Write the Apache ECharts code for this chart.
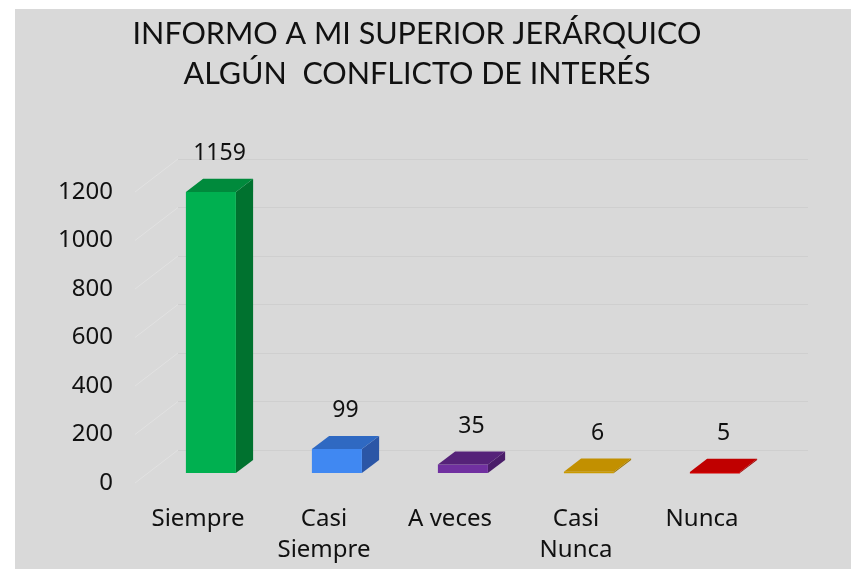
<!DOCTYPE html>
<html>
<head>
<meta charset="utf-8">
<script src="https://cdn.jsdelivr.net/npm/echarts@6/dist/echarts.min.js"></script>
<style>
html,body{margin:0;padding:0;background:#ffffff;}
#chart{width:852px;height:569px;}
</style>
</head>
<body>
<div id="chart"></div>
<script>
// ---- data ----
var categories = ['Siempre', 'Casi\nSiempre', 'A veces', 'Casi\nNunca', 'Nunca'];
var values = [1159, 99, 35, 6, 5];
var yTicks = [0, 200, 400, 600, 800, 1000, 1200];

// ---- styles ----
var frontColors = ['#00B050', '#4088F2', '#7030A0', '#C99A00', '#D00000'];
var topColors   = ['#008A3C', '#2F69C2', '#552279', '#C29000', '#C00000'];
var sideColors  = ['#00722F', '#2B56A6', '#4A1D69', '#A07800', '#A00000'];
var FONT = '"Noto Sans"';
var TITLE_FONT = 'Lato';
var WALL_DX = 43, WALL_DY = -33;     // depth of the floor/back wall
var BAR_FRONT = 0.30, BAR_BACK = 0.70; // fraction of depth
var BAR_W = 50;

var chart = echarts.init(document.getElementById('chart'), null, {renderer: 'canvas'});

function renderBar(params, api) {
  var idx = api.value(0);
  var v = api.value(1);
  var base = api.coord([idx, 0]);
  var top = api.coord([idx, v]);
  var fdx = WALL_DX * BAR_FRONT, fdy = WALL_DY * BAR_FRONT;
  var ddx = WALL_DX * (BAR_BACK - BAR_FRONT), ddy = WALL_DY * (BAR_BACK - BAR_FRONT);
  var x0 = base[0] + fdx - BAR_W / 2, x1 = x0 + BAR_W;
  var yb = base[1] + fdy, yt = top[1] + fdy;
  var i = params.dataIndex;
  return {
    type: 'group',
    children: [
      { type: 'polygon', shape: { points: [[x1, yt], [x1 + ddx, yt + ddy], [x1 + ddx, yb + ddy], [x1, yb]] },
        style: { fill: sideColors[i] } },
      { type: 'rect', shape: { x: x0, y: yt, width: BAR_W, height: Math.max(yb - yt, 1.5) },
        style: { fill: frontColors[i] } },
      { type: 'polygon', shape: { points: [[x0, yt], [x1, yt], [x1 + ddx, yt + ddy], [x0 + ddx, yt + ddy]] },
        style: { fill: topColors[i] } },
      { type: 'text', x: (x0 + x1 + ddx) / 2, y: yt + ddy - 25,
        style: { text: String(v), fill: '#111', font: '23px ' + FONT, align: 'center', verticalAlign: 'middle' } }
    ]
  };
}

function renderWallLine(params, api) {
  var v = api.value(0);
  var p = api.coord([0, v]);
  var x = params.coordSys.x;
  return {
    type: 'line',
    shape: { x1: x, y1: p[1], x2: x + WALL_DX, y2: p[1] + WALL_DY },
    style: { stroke: '#e2e2e2', lineWidth: 1 }
  };
}

var option = {
  backgroundColor: 'transparent',
  animation: false,
  graphic: [{
    type: 'rect', z: -10, silent: true,
    shape: { x: 15, y: 9, width: 836, height: 560 },
    style: { fill: '#d9d9d9' }
  }],
  title: {
    text: 'INFORMO A MI SUPERIOR JERÁRQUICO\nALGÚN  CONFLICTO DE INTERÉS',
    left: 412, top: 9, textAlign: 'center',
    textStyle: { fontFamily: TITLE_FONT, fontSize: 30.5, fontWeight: 'normal', color: '#111', lineHeight: 40 }
  },
  grid: [
    { left: 135, right: 87, top: 192, bottom: 86 },
    { left: 178, right: 44, top: 159, bottom: 119 }
  ],
  xAxis: [
    { type: 'category', gridIndex: 0, data: categories,
      axisLine: { show: false }, axisTick: { show: false },
      axisLabel: { fontFamily: 'Noto Sans', fontSize: 24, color: '#111', margin: 21, lineHeight: 31, interval: 0 } },
    { type: 'category', gridIndex: 1, data: categories, show: false }
  ],
  yAxis: [
    { type: 'value', gridIndex: 0, min: 0, max: 1200, interval: 200,
      axisLine: { show: false }, axisTick: { show: false }, splitLine: { show: false },
      axisLabel: { fontFamily: 'Noto Sans', fontSize: 24, color: '#111', margin: 22, padding: [4, 0, 0, 0],
        formatter: function (v) { return String(v); } } },
    { type: 'value', gridIndex: 1, min: 0, max: 1200, interval: 200,
      axisLine: { show: false }, axisTick: { show: false }, axisLabel: { show: false },
      splitLine: { show: true, lineStyle: { color: '#cfcfcf', width: 1 } } }
  ],
  series: [
    { type: 'custom', xAxisIndex: 0, yAxisIndex: 0, renderItem: renderWallLine,
      data: yTicks.map(function (t) { return [t]; }), encode: { y: 0 }, z: 1, silent: true },
    { type: 'custom', xAxisIndex: 0, yAxisIndex: 0, renderItem: renderBar,
      data: values.map(function (v, i) { return [i, v]; }), encode: { x: 0, y: 1 }, z: 5 }
  ]
};
chart.setOption(option);
</script>
</body>
</html>
